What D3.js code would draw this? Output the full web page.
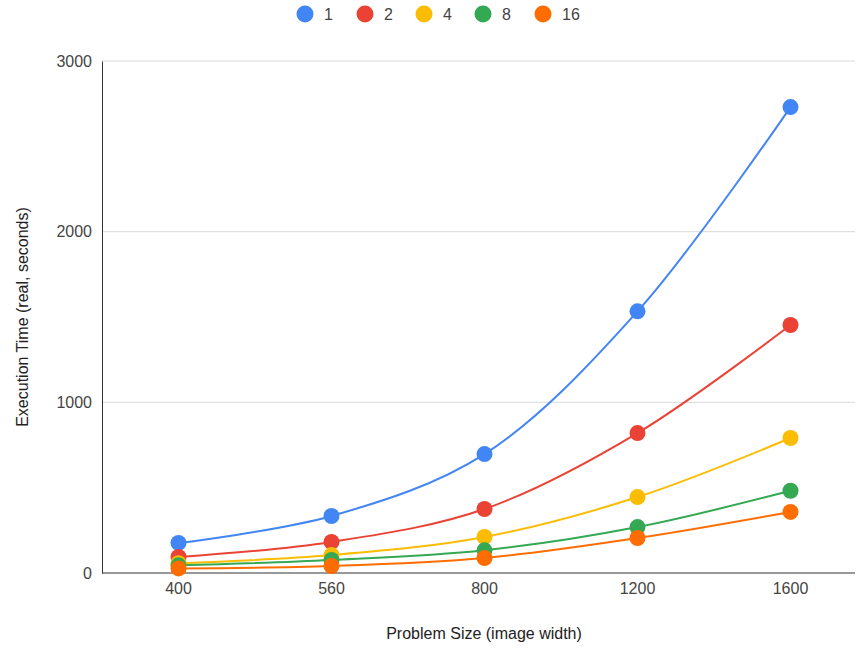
<!DOCTYPE html>
<html><head><meta charset="utf-8">
<script src="https://cdn.jsdelivr.net/npm/d3@7"></script>
<style>body{margin:0;background:#fff;font-family:Arial,"Liberation Sans",sans-serif}</style>
</head><body><svg id="c" width="856" height="648"></svg>
<script>
const categories = ["400","560","800","1200","1600"];
const seriesNames = ["1","2","4","8","16"];
const s1  = [176, 334, 697, 1533, 2730];
const s2  = [94, 182, 375, 820, 1453];
const s4  = [57, 105, 211, 445, 791];
const s8  = [45, 76, 133, 269, 482];
const s16 = [27, 41, 88, 205, 358];
const yTicks = [0, 1000, 2000, 3000];
const colors = ["#4285F4","#EA4335","#FBBC04","#34A853","#FF6D01"];
const seriesValues = [s1, s2, s4, s8, s16];

(function(){
const FONT = "Arial, 'Liberation Sans', sans-serif";
const FS = 16;
const svg = d3.select("#c");
const pLeft = 102, pRight = 855, pTop = 61, pBottom = 573;
const x = d3.scaleBand().domain(categories).range([pLeft, 867]).padding(0);
const xc = c => x(c) + x.bandwidth()/2;
const y = d3.scaleLinear().domain([0, 3000]).range([pBottom, pTop]);

svg.append("g").selectAll("line").data(yTicks.filter(t=>t>0)).join("line")
  .attr("x1", pLeft).attr("x2", pRight).attr("y1", d=>y(d)).attr("y2", d=>y(d))
  .attr("stroke", "#d9d9d9").attr("stroke-width", 1);

const yAxis = svg.append("g").attr("transform", `translate(${pLeft},0)`)
  .call(d3.axisLeft(y).tickValues(yTicks).tickSize(0).tickPadding(10).tickFormat(d3.format("d")));
yAxis.select(".domain").attr("stroke", "#333").attr("stroke-width", 1);
yAxis.selectAll("text").attr("font-size", FS).attr("fill", "#444").attr("font-family", FONT);

const xAxis = svg.append("g").attr("transform", `translate(0,${pBottom})`)
  .call(d3.axisBottom(x).tickSize(0).tickPadding(10));
xAxis.select(".domain").remove();
xAxis.selectAll("text").attr("font-size", FS).attr("fill", "#444").attr("font-family", FONT);
svg.append("line").attr("x1", pLeft).attr("x2", pRight).attr("y1", pBottom).attr("y2", pBottom)
  .attr("stroke", "#333").attr("stroke-width", 1);

const line = d3.line().x((d,i)=>xc(categories[i])).y(d=>y(d)).curve(d3.curveCatmullRom.alpha(0.5));
seriesValues.forEach((vals, si) => {
  svg.append("path").datum(vals).attr("d", line).attr("fill", "none")
    .attr("stroke", colors[si]).attr("stroke-width", 2);
});
seriesValues.forEach((vals, si) => {
  svg.append("g").selectAll("circle").data(vals).join("circle")
    .attr("cx", (d,i)=>xc(categories[i])).attr("cy", d=>y(d)).attr("r", 8)
    .attr("fill", colors[si]);
});

const legX = [305, 365, 424, 483, 543];
const leg = svg.append("g");
seriesNames.forEach((n, i) => {
  leg.append("circle").attr("cx", legX[i]).attr("cy", 14).attr("r", 8.5).attr("fill", colors[i]);
  leg.append("text").attr("x", legX[i] + 19).attr("y", 20).text(n)
    .attr("font-size", FS).attr("fill", "#444").attr("font-family", FONT);
});

svg.append("text").attr("x", 484).attr("y", 639).attr("text-anchor", "middle")
  .attr("font-size", FS).attr("fill", "#222").attr("font-family", FONT).text("Problem Size (image width)");
svg.append("text").attr("transform", `translate(28,${(pTop+pBottom)/2}) rotate(-90)`)
  .attr("text-anchor", "middle").attr("font-size", FS).attr("fill", "#222").attr("font-family", FONT)
  .text("Execution Time (real, seconds)");
})();
</script></body></html>
